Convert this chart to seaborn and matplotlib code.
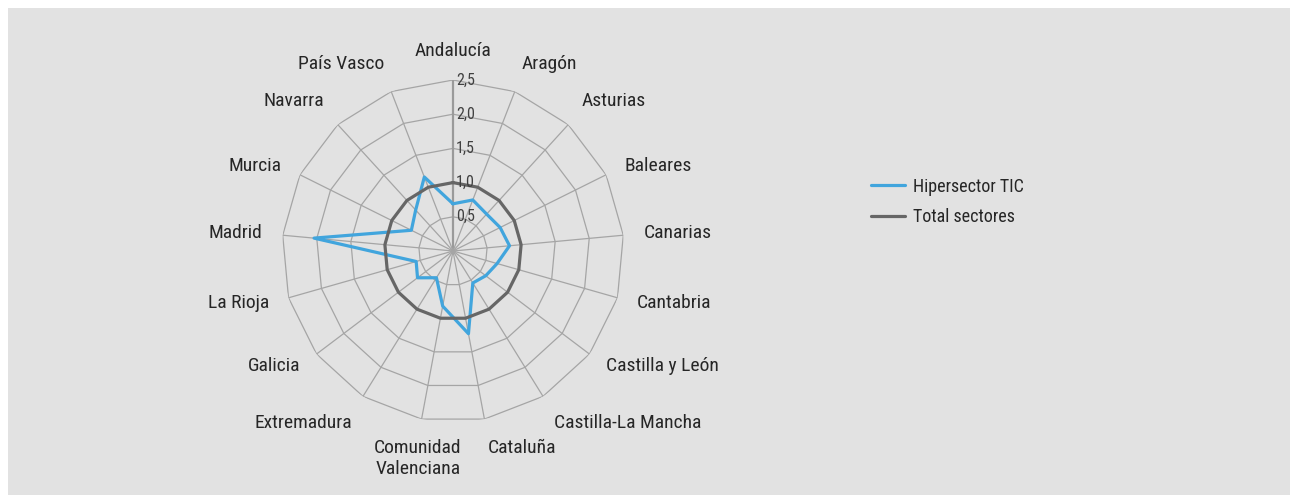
import numpy as np
import pandas as pd
import matplotlib
matplotlib.use("Agg")
import matplotlib.pyplot as plt
import seaborn as sns
from matplotlib.patches import Rectangle

# ---------------- data ----------------
categorias = ["Andalucía", "Aragón", "Asturias", "Baleares", "Canarias", "Cantabria",
              "Castilla y León", "Castilla-La Mancha", "Cataluña",
              "Comunidad\nValenciana", "Extremadura", "Galicia", "La Rioja",
              "Madrid", "Murcia", "Navarra", "País Vasco"]
hipersector_tic = [0.69, 0.80, 0.73, 0.77, 0.83, 0.67, 0.60, 0.55, 1.23,
                   0.82, 0.46, 0.65, 0.56, 2.04, 0.68, 0.81, 1.16]
total_sectores = [1.0] * 17
series = ["Hipersector TIC", "Total sectores"]
ticks_radiales = [0.5, 1.0, 1.5, 2.0, 2.5]
etiquetas_radiales = ["0,5", "1,0", "1,5", "2,0", "2,5"]

colores = {"Hipersector TIC": "#41a5dd", "Total sectores": "#666666"}
texto = "#262626"
rejilla = "#a5a5a5"

sns.set_theme(style="white")
plt.rcParams["font.family"] = ["Roboto Condensed", "Archivo Narrow", "DejaVu Sans"]

W, H = 1290, 495
fig = plt.figure(figsize=(W / 100, H / 100), dpi=100)
fig.patch.set_facecolor("white")
fig.add_artist(Rectangle((8 / W, 0), 1 - 8 / W, 1 - 8 / H, transform=fig.transFigure,
                         facecolor="#e2e2e2", edgecolor="none", zorder=0))

cx, cy, R = 453, 251, 171
ax = fig.add_axes([(cx - R) / W, (H - cy - R) / H, 2 * R / W, 2 * R / H], projection="polar")
ax.set_facecolor("none")
ax.set_theta_offset(np.pi / 2)
ax.set_theta_direction(-1)

n = len(categorias)
ang = np.arange(n) * 2 * np.pi / n
ang_c = np.append(ang, 2 * np.pi)

# polygonal grid
for r in ticks_radiales:
    ax.plot(ang_c, [r] * (n + 1), color=rejilla, lw=0.9, zorder=1)
for i, a in enumerate(ang):
    if i == 0:
        ax.plot([a, a], [0, ticks_radiales[-1]], color="#9a9a9a", lw=1.6, zorder=1)
    else:
        ax.plot([a, a], [0, ticks_radiales[-1]], color=rejilla, lw=0.9, zorder=1)

# data
df = pd.DataFrame({
    "theta": np.concatenate([ang_c, ang_c]),
    "valor": hipersector_tic + [hipersector_tic[0]] + total_sectores + [total_sectores[0]],
    "serie": [series[0]] * (n + 1) + [series[1]] * (n + 1),
})
sns.lineplot(data=df, x="theta", y="valor", hue="serie", hue_order=series,
             palette=colores, sort=False, estimator=None, lw=2.3, ax=ax, zorder=3)

ax.set_ylim(0, ticks_radiales[-1])
ax.set_xticks([])
ax.set_yticks([])
ax.grid(False)
ax.spines["polar"].set_visible(False)
ax.set_xlabel("")
ax.set_ylabel("")

# radial tick labels
for r, lbl in zip(ticks_radiales, etiquetas_radiales):
    ax.annotate(lbl, xy=(0, r), xytext=(2, 0), textcoords="offset points",
                ha="left", va="center", fontsize=11.5, color="#404040",
                annotation_clip=False, zorder=4)

# category labels
gap = 14.5
for a, cat in zip(ang, categorias):
    s, c = np.sin(a), np.cos(a)
    if abs(s) < 0.15 or "\n" in cat:
        ha = "center"
    else:
        ha = "left" if s > 0 else "right"
    va = "bottom" if c > 0.7 else ("top" if c < -0.7 else "center")
    ax.annotate(cat, xy=(a, ticks_radiales[-1]), xytext=(gap * s, gap * c),
                textcoords="offset points", ha=ha, va=va, multialignment="center",
                fontsize=14, color=texto, annotation_clip=False, linespacing=1.25)

handles, labels = ax.get_legend_handles_labels()
if ax.legend_ is not None:
    ax.legend_.remove()
leg = fig.legend(handles, labels, loc="center left",
                 bbox_to_anchor=(855 / W, 1 - 202 / H),
                 frameon=False, fontsize=13, handlelength=1.85, handletextpad=0.45,
                 labelspacing=0.72)
for t in leg.get_texts():
    t.set_color(texto)

fig.savefig("out.png", dpi=100)
